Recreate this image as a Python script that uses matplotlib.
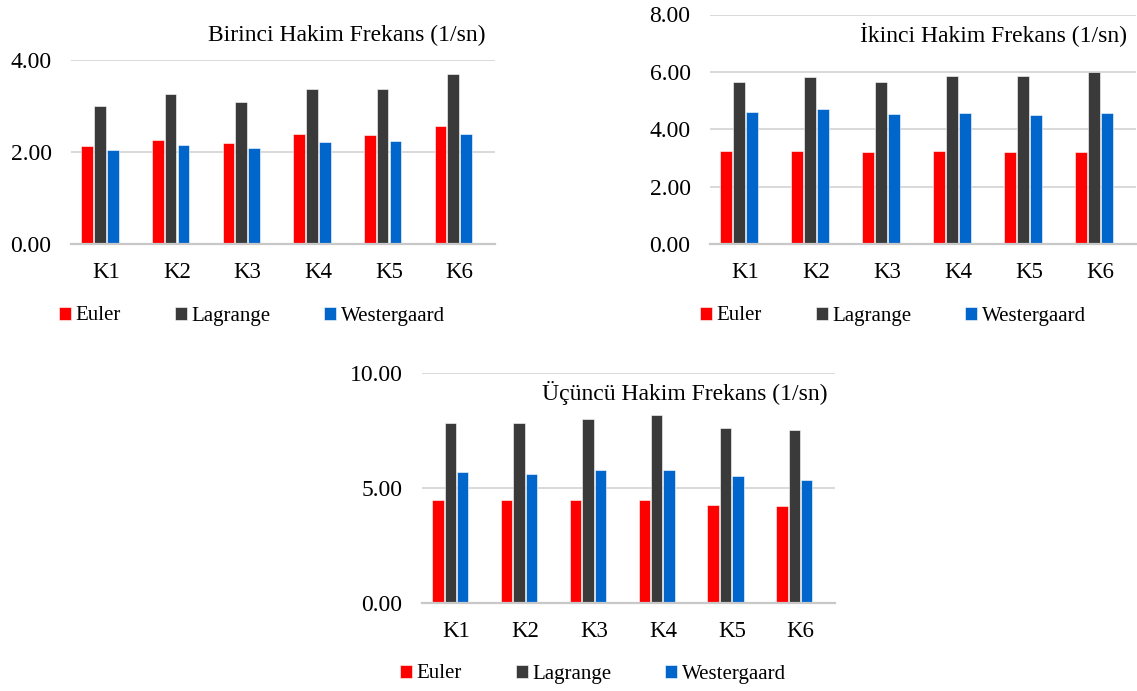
import numpy as np
import matplotlib
matplotlib.use("Agg")
import matplotlib.pyplot as plt
from matplotlib.ticker import FixedLocator, FormatStrFormatter

plt.rcParams["font.family"] = ["Liberation Serif", "DejaVu Serif"]

categories = ["K1", "K2", "K3", "K4", "K5", "K6"]
series_names = ["Euler", "Lagrange", "Westergaard"]

first_euler = [2.13, 2.26, 2.20, 2.40, 2.38, 2.57]
first_lagrange = [3.01, 3.27, 3.09, 3.37, 3.36, 3.70]
first_westergaard = [2.05, 2.16, 2.08, 2.22, 2.25, 2.40]

second_euler = [3.24, 3.24, 3.23, 3.24, 3.21, 3.21]
second_lagrange = [5.66, 5.81, 5.66, 5.86, 5.85, 5.99]
second_westergaard = [4.59, 4.70, 4.53, 4.58, 4.51, 4.56]

third_euler = [4.48, 4.48, 4.45, 4.48, 4.24, 4.20]
third_lagrange = [7.83, 7.82, 7.98, 8.14, 7.59, 7.50]
third_westergaard = [5.68, 5.58, 5.77, 5.76, 5.49, 5.32]

titles = ["Birinci Hakim Frekans (1/sn)",
          "İkinci Hakim Frekans (1/sn)",
          "Üçüncü Hakim Frekans (1/sn)"]
y_ticks = [[0, 2, 4], [0, 2, 4, 6, 8], [0, 5, 10]]

colors = ["#FF0000", "#3A3A3A", "#0066CC"]
grid_color = "#D9D9D9"

W, H = 1137, 691
fig = plt.figure(figsize=(W / 100, H / 100), dpi=100)


def px_axes(left, right, top, bottom):
    return fig.add_axes([left / W, 1 - bottom / H, (right - left) / W, (bottom - top) / H])


def draw_panel(ax, values, yt, title, title_xy, legend_xy):
    x = np.arange(len(categories))
    pitch = 0.18
    width = 0.165
    # four slots per category, the first three hold the series
    offsets = (np.arange(4) - 1.5) * pitch
    for i, (vals, c, name) in enumerate(zip(values, colors, series_names)):
        ax.bar(x + offsets[i], vals, width, color=c, label=name,
               edgecolor="white", linewidth=0.4, zorder=3)
    ax.set_xlim(-0.5, len(categories) - 0.5)
    ax.set_ylim(yt[0], yt[-1])
    ax.yaxis.set_major_locator(FixedLocator(yt))
    ax.yaxis.set_major_formatter(FormatStrFormatter("%.2f"))
    ax.set_xticks(x)
    ax.set_xticklabels(categories)
    ax.grid(axis="y", color=grid_color, linewidth=1.4, zorder=0)
    ax.set_axisbelow(True)
    for s in ["top", "right", "left"]:
        ax.spines[s].set_visible(False)
    ax.spines["bottom"].set_color("#C8C8C8")
    ax.spines["bottom"].set_linewidth(1.6)
    ax.spines["bottom"].set_zorder(4)
    ax.tick_params(axis="y", length=0, pad=14, labelsize=17)
    ax.tick_params(axis="x", length=0, pad=13, labelsize=16.5)
    fig.text(title_xy[0] / W, 1 - title_xy[1] / H, title, ha="right",
             va="baseline", fontsize=17)
    ax.legend(loc="center left", bbox_to_anchor=(legend_xy[0] / W, 1 - legend_xy[1] / H),
              bbox_transform=fig.transFigure, ncol=3, frameon=False,
              borderpad=0, borderaxespad=0, fontsize=15,
              handlelength=0.58, handleheight=0.58, handletextpad=0.2,
              columnspacing=2.6)


ax1 = px_axes(71, 495, 60, 244.3)
draw_panel(ax1, [first_euler, first_lagrange, first_westergaard], y_ticks[0],
           titles[0], (486, 40.7), (59, 316))

ax2 = px_axes(710, 1136, 14.5, 244.3)
draw_panel(ax2, [second_euler, second_lagrange, second_westergaard], y_ticks[1],
           titles[1], (1127, 41.7), (700, 316))

ax3 = px_axes(422, 835, 372.7, 602.7)
draw_panel(ax3, [third_euler, third_lagrange, third_westergaard], y_ticks[2],
           titles[2], (827, 400), (400, 674))

fig.savefig("out.png", dpi=100)
